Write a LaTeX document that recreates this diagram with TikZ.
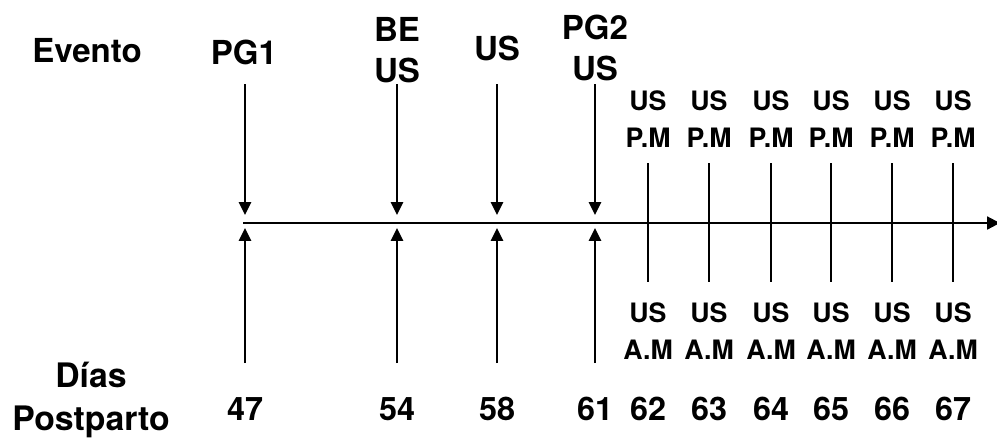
\documentclass[tikz,border=0pt]{standalone}
\usepackage{fontspec}
\setmainfont{TeX Gyre Heros}
\usepackage{tikz}
\usetikzlibrary{arrows.meta}
\tikzset{
    big/.style   ={font=\fontsize{23.5}{29}\selectfont\bfseries, align=center, inner sep=0pt},
    head/.style  ={font=\fontsize{24}{30}\selectfont\bfseries, align=center, inner sep=0pt},
    small/.style ={font=\fontsize{19}{26}\selectfont\bfseries, align=center, inner sep=0pt},
    num/.style   ={font=\fontsize{23}{25}\selectfont\bfseries, inner sep=0pt},
    axisln/.style={line width=1.5pt, -{Triangle[length=3.2mm, width=3.2mm]}},
    ar/.style    ={line width=1.5pt, -{Triangle[length=3.2mm, width=3mm]}},
    tk/.style    ={line width=1.5pt}
}
\begin{document}
\begin{tikzpicture}[x=0.025cm, y=-0.025cm]
  \useasboundingbox (0,0) rectangle (997,437);
  % headers
  \node[big] (evento) at (87,51) {Evento};
  \node[head] (dias) at (91,400) {Días\\Postparto};
  % events
  \node[big] (pg1) at (244,52) {PG1};
  \node[big] (beus) at (397,50) {BE\\US};
  \node[big] (us58) at (497,48) {US};
  \node[big] (pg2us) at (595,48) {PG2\\US};
  % time axis
  \coordinate (ax0) at (243,223);
  \coordinate (ax1) at (1000,223);
  \draw[axisln] (ax0) -- (ax1);
  % arrows to the axis
  \foreach \x/\d in {245/47,397/54,497/58,595/61}{
    \coordinate (s\d) at (\x,84);
    \coordinate (t\d) at (\x,215);
    \coordinate (u\d) at (\x,228);
    \coordinate (e\d) at (\x,363);
    \draw[ar] (s\d) -- (t\d);
    \draw[ar] (e\d) -- (u\d);
    \node[num] (n\d) at (\x,409) {\d};
  }
  % morning and evening scans
  \foreach \x/\d in {648/62,709/63,771/64,831/65,892/66,953/67}{
    \node[small] (pm\d) at (\x,119) {US\\P.M};
    \node[small] (am\d) at (\x,331) {US\\A.M};
    \coordinate (p\d) at (\x,163);
    \coordinate (m\d) at (\x,282);
    \draw[tk] (p\d) -- (m\d);
    \node[num] (n\d) at (\x,409) {\d};
  }
\end{tikzpicture}
\end{document}
